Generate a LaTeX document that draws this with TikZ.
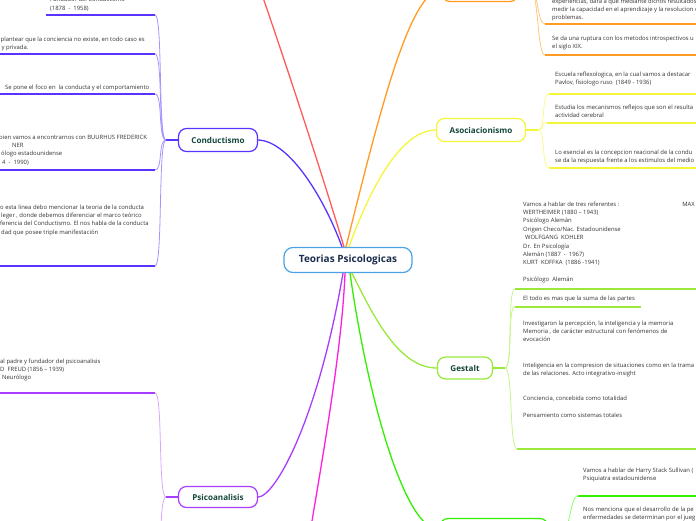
\documentclass[tikz,border=0pt]{standalone}
\usepackage{fontspec}
\setmainfont{Open Sans}
\definecolor{c_root}{HTML}{4BA3E3}
\definecolor{c_rootlabel}{HTML}{1C2D4D}
\definecolor{c_label}{HTML}{14473A}
\definecolor{c_txt}{HTML}{333333}
\definecolor{c_red}{HTML}{FF5C5C}
\definecolor{c_orange}{HTML}{FF9A22}
\definecolor{c_orange_lt}{HTML}{FFC67A}
\definecolor{c_yellow}{HTML}{F5F53A}
\definecolor{c_yellow_lt}{HTML}{FAFA8C}
\definecolor{c_blue}{HTML}{5A33FF}
\definecolor{c_blue_lt}{HTML}{A594FF}
\definecolor{c_purple}{HTML}{A83DFF}
\definecolor{c_purple_lt}{HTML}{D6A8FF}
\definecolor{c_magenta}{HTML}{FF1FE0}
\definecolor{c_green}{HTML}{33F000}
\definecolor{c_green_lt}{HTML}{8CFF66}
\definecolor{c_lime}{HTML}{99E83A}
\definecolor{c_lime_lt}{HTML}{C8F58C}
\usetikzlibrary{calc}
\tikzset{
  root_box/.style={draw=c_root,fill=white,rounded corners=9pt,line width=1.2pt,
    minimum width=128pt,minimum height=25pt,inner sep=0pt,
    font=\fontsize{10}{12}\selectfont\bfseries,text=c_rootlabel},
  topic_box/.style={fill=white,rounded corners=8pt,line width=1.2pt,
    minimum height=23pt,inner sep=0pt,
    font=\fontsize{8.1}{9}\selectfont\bfseries,text=c_label},
  sub_txt/.style={anchor=base west,align=left,inner sep=0pt,
    font=\fontsize{5.9}{8.4}\selectfont,text=c_txt},
  branch/.style={line width=1.3pt},
  stub/.style={line width=1.6pt},
  ul/.style={line width=1.5pt},
  twig/.style={line width=0.8pt},
}

\begin{document}
\begin{tikzpicture}[x=1pt,y=-1pt]
\useasboundingbox (0,0) rectangle (696,520);
\clip (0,0) rectangle (696,520);

% central topic and main topics
\node[root_box] (root) at (348,260) {Teorias Psicologicas};
\node[topic_box,draw=c_blue,minimum width=79pt] (cond) at (218,140) {Conductismo};
\node[topic_box,draw=c_purple,minimum width=79pt,minimum height=21pt] (psico) at (218,497) {Psicoanalisis};
\node[topic_box,draw=c_yellow,minimum width=89pt] (asoc) at (481,130) {Asociacionismo};
\node[topic_box,draw=c_lime,minimum width=55pt,minimum height=22pt] (gest) at (465,368) {Gestalt};
\node[topic_box,draw=c_orange,minimum width=76pt] (otop) at (480,-10) {};
\node[topic_box,draw=c_green,minimum width=108pt] (gbot) at (494,530) {};
\coordinate (red_end) at (250,-40);
\coordinate (mag_end) at (308,545);

% main branches
\draw[branch,c_red] ([xshift=-4pt]root.north) .. controls (330,200) and (292,80) .. (red_end);
\draw[branch,c_orange] ([xshift=-2pt]root.north) .. controls (380,110) and (410,-10) .. (otop.west);
\draw[branch,c_yellow] ([xshift=1pt]root.north) .. controls (375,175) and (405,130) .. (asoc.west);
\draw[branch,c_blue] ([xshift=-6pt]root.north) .. controls (325,200) and (290,141) .. (cond.east);
\draw[branch,c_purple] ([xshift=-5pt]root.south) .. controls (318,420) and (275,497) .. (psico.east);
\draw[branch,c_magenta] ([xshift=-3pt]root.south) .. controls (342,350) and (322,460) .. (mag_end);
\draw[branch,c_green] ([xshift=2pt]root.south) .. controls (368,400) and (405,530) .. (gbot.west);
\draw[branch,c_lime] ([xshift=4pt]root.south) .. controls (375,320) and (400,368) .. (gest.west);

% Conductismo
\draw[stub,c_blue] (cond.west) -- ++(-12,0) coordinate (cond_s);
\coordinate (cu1) at (155,15);
\coordinate (cu2) at (155,54);
\coordinate (cu3) at (155,94);
\coordinate (cu4) at (155,170);
\coordinate (cu5) at (155,266);
\draw[ul,c_blue] (cu1) -- (46,15);
\foreach \c in {cu2,cu3,cu4,cu5} \draw[ul,c_blue] (\c) -- ++(-170,0);
\foreach \c in {cu1,cu2,cu3,cu4,cu5} \draw[twig,c_blue_lt] (cond_s) to[out=180,in=0,distance=8pt] (\c);
\node[sub_txt] (ct1) at (50,10) {Fundador del Conductismo\\(1878 \ - \ 1958)};
\node[sub_txt] (ct2) at (0.5,49.4) {plantear que la conciencia no existe, en todo caso es\\\hspace*{1pt}y privada.};
\node[sub_txt] (ct3) at (5,89) {Se pone el foco en \ la conducta y el comportamiento};
\node[sub_txt] (ct4) at (-1,164.2) {bien vamos a encontrarnos con BUURHUS FREDERICK\\\hspace*{13pt}NER\\\hspace*{2pt}ólogo estadounidense\\\hspace*{3pt}4 \ - \ 1990)};
\node[sub_txt] (ct5) at (0,234.2) {o esta linea debo mencionar la teoria de la conducta\\\hspace*{1pt}leger , donde debemos diferenciar el marco teórico\\ferencia del Conductismo. El nos habla de la conducta\\\hspace*{1pt}dad que posee triple manifestación};

% Psicoanalisis
\draw[stub,c_purple] (psico.west) -- ++(-12,0) coordinate (psico_s);
\coordinate (pu1) at (155,393);
\coordinate (pu2) at (155,585);
\draw[ul,c_purple] (pu1) -- ++(-170,0);
\foreach \c in {pu1,pu2} \draw[twig,c_purple_lt] (psico_s) to[out=180,in=0,distance=8pt] (\c);
\node[sub_txt] (pt1) at (0,379.8) {al padre y fundador del psicoanalisis\\D \ FREUD (1856 – 1939)\\\hspace*{2pt}Neurólogo};

% Asociacionismo
\draw[stub,c_yellow] (asoc.east) -- ++(12,0) coordinate (asoc_s);
\coordinate (au1) at (549,94);
\coordinate (au2) at (547,123);
\coordinate (au3) at (549,168);
\foreach \c in {au1,au2,au3} {
  \draw[ul,c_yellow] (\c) -- ++(170,0);
  \draw[twig,c_yellow_lt] (asoc_s) to[out=0,in=180,distance=8pt] (\c);
}
\node[sub_txt] (at1) at (555,84.4) {Escuela reflexologica, en la cual vamos a destacar\\Pavlov, fisiologo ruso \ (1849 - 1936)};
\node[sub_txt] (at2) at (555,117.4) {Estudia los mecanismos reflejos que son el resulta\\actividad cerebral};
\node[sub_txt] (at3) at (555,162.4) {Lo esencial es la concepcion reacional de la condu\\se da la respuesta frente a los estimulos del medio};

% Gestalt
\draw[stub,c_lime] (gest.east) -- ++(12,0) coordinate (gest_s);
\coordinate (gu1) at (515,289);
\coordinate (gu2) at (515,307);
\coordinate (gu3) at (517,449);
\draw[ul,c_lime] (gu1) -- ++(190,0);
\draw[ul,c_lime] (gu2) -- (641,307);
\draw[ul,c_lime] (gu3) -- ++(190,0);
\foreach \c in {gu1,gu2,gu3} \draw[twig,c_lime_lt] (gest_s) to[out=0,in=180,distance=8pt] (\c);
\node[sub_txt] (gt1) at (523,281.6) {Vamos a hablar de tres referentes :\hspace*{63pt}MAX\\WERTHEIMER (1880 – 1943)\\Psicólogo Alemán\\Origen Checo/Nac. Estadounidense\\\hspace*{2pt}WOLFGANG \ KOHLER\\Dr. En Psicología\\Alemán (1887 \ - \ 1967)\\KURT \ KOFFKA \ (1886 -1941)\\[8.4pt]Psicólogo \ Alemán};
\node[sub_txt] (gt2) at (523,300) {El todo es mas que la suma de las partes};
\node[sub_txt] (gt3) at (523,417.4) {Investigaron la percepción, la inteligencia y la memoria\\Memoria , de carácter estructural con fenómenos de\\evocación\\[16.8pt]Inteligencia en la compresion de situaciones como en la trama\\de las relaciones. Acto integrativo-insight\\[16.8pt]Conciencia, concebida como totalidad\\[8.4pt]Pensamiento como sistemas totales};

% bottom green topic
\draw[stub,c_green] (gbot.east) -- ++(14,0) coordinate (gbot_s);
\coordinate (bu1) at (578,496);
\coordinate (bu2) at (578,528);
\foreach \c in {bu1,bu2} {
  \draw[ul,c_green] (\c) -- ++(130,0);
  \draw[twig,c_green_lt] (gbot_s) to[out=0,in=180,distance=8pt] (\c);
}
\node[sub_txt] (bt1) at (583,480.4) {Vamos a hablar de Harry Stack Sullivan (\\Psiquiatra estadounidense};
\node[sub_txt] (bt2) at (583,519.4) {Nos menciona que el desarrollo de la pe\\enfermedades se determinan por el jueg};

% top orange topic
\draw[stub,c_orange] (otop.east) -- ++(12,0) coordinate (otop_s);
\coordinate (ou1) at (545,24);
\coordinate (ou2) at (545,55);
\foreach \c in {ou1,ou2} {
  \draw[ul,c_orange] (\c) -- ++(160,0);
  \draw[twig,c_orange_lt] (otop_s) to[out=0,in=180,distance=8pt] (\c);
}
\node[sub_txt] (ot1) at (552,19.8) {experiencias, dará a que mediante dichos resultados\\medir la capacidad en el aprendizaje y la resolucion de\\problemas.};
\node[sub_txt] (ot2) at (552,48.4) {Se da una ruptura con los metodos introspectivos u\\el siglo XIX.};
\end{tikzpicture}
\end{document}
